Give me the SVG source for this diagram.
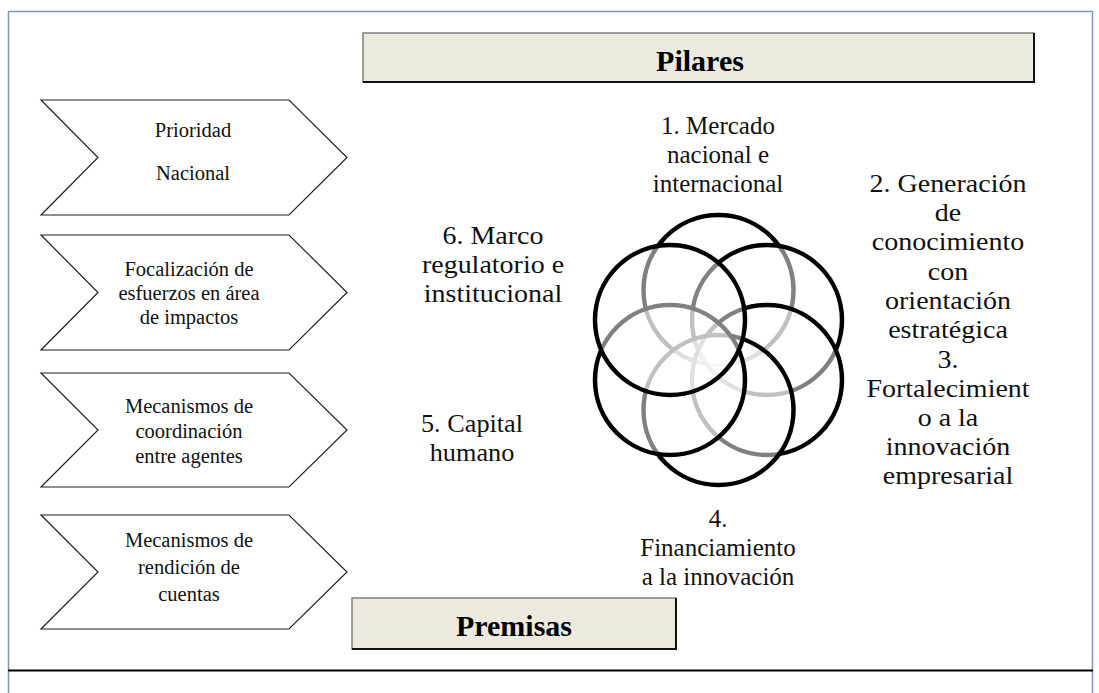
<svg xmlns="http://www.w3.org/2000/svg" width="1099" height="693" viewBox="0 0 1099 693">
<style>
.frame{fill:none;stroke:#7d96bd;stroke-width:1.5}
.chev{fill:#fff;stroke:#222;stroke-width:1.2}
text{font-family:"Liberation Serif","Times New Roman",serif;fill:#111;text-anchor:middle}
.ct{font-size:20.5px}
.lbl{font-size:25px}
.hdr{fill:#ece9df;stroke:#808080;stroke-width:1.5}
.hdrs{fill:none;stroke:#111;stroke-width:2}
.ht{font-size:30px;font-weight:bold;fill:#000}
.ring{fill:#fff;fill-opacity:0.5;stroke:#000;stroke-width:4.5}
</style>
<rect width="1099" height="693" fill="#fff"/>
<g id="frame">
<polyline class="frame" points="8.5,693 8.5,11.5 1092.5,11.5 1092.5,693"/>
<line x1="8" y1="670.5" x2="1093" y2="670.5" stroke="#000" stroke-width="2"/>
</g>
<g id="pilares">
<rect class="hdr" x="363" y="33" width="671" height="49"/>
<polyline class="hdrs" points="363,82 1034,82 1034,33"/>
<text class="ht" x="700" y="71">Pilares</text>
</g>
<g id="premisas">
<rect class="hdr" x="352" y="598" width="324" height="51"/>
<polyline class="hdrs" points="352,649 676,649 676,598"/>
<text class="ht" x="514" y="636">Premisas</text>
</g>
<g id="chevron1">
<polygon class="chev" points="41,100 289,100 347,157.5 289,215 41,215 98,157.5"/>
<text class="ct" x="193" y="137">Prioridad</text>
<text class="ct" x="193" y="180">Nacional</text>
</g>
<g id="chevron2">
<polygon class="chev" points="41,235 289,235 347,292.5 289,350 41,350 98,292.5"/>
<text class="ct" x="189" y="276">Focalización de</text>
<text class="ct" x="189" y="300">esfuerzos en área</text>
<text class="ct" x="189" y="324">de impactos</text>
</g>
<g id="chevron3">
<polygon class="chev" points="41,373 289,373 347,430 289,487 41,487 98,430"/>
<text class="ct" x="189" y="413">Mecanismos de</text>
<text class="ct" x="189" y="438">coordinación</text>
<text class="ct" x="189" y="463">entre agentes</text>
</g>
<g id="chevron4">
<polygon class="chev" points="41,515 289,515 347,572 289,629 41,629 98,572"/>
<text class="ct" x="189" y="547">Mecanismos de</text>
<text class="ct" x="189" y="574">rendición de</text>
<text class="ct" x="189" y="601">cuentas</text>
</g>
<g id="flower">
<circle class="ring" cx="718.5" cy="290" r="75"/>
<circle class="ring" cx="767" cy="320" r="75"/>
<circle class="ring" cx="767" cy="380" r="75"/>
<circle class="ring" cx="718.5" cy="410" r="75"/>
<circle class="ring" cx="670" cy="380" r="75"/>
<circle class="ring" cx="670" cy="320" r="75"/>
</g>
<g id="pilar1" class="lbl">
<text class="lbl" x="718" y="134">1. Mercado</text>
<text class="lbl" x="718" y="163">nacional e</text>
<text class="lbl" x="718" y="192">internacional</text>
</g>
<g id="pilar2" transform="translate(948,0) scale(1.12,1)">
<text class="lbl" x="0" y="192">2. Generación</text>
<text class="lbl" x="0" y="221">de</text>
<text class="lbl" x="0" y="250">conocimiento</text>
<text class="lbl" x="0" y="280">con</text>
<text class="lbl" x="0" y="309">orientación</text>
<text class="lbl" x="0" y="338">estratégica</text>
</g>
<g id="pilar3" transform="translate(948,0) scale(1.12,1)">
<text class="lbl" x="0" y="368">3.</text>
<text class="lbl" x="0" y="397">Fortalecimient</text>
<text class="lbl" x="0" y="426">o a la</text>
<text class="lbl" x="0" y="455">innovación</text>
<text class="lbl" x="0" y="484">empresarial</text>
</g>
<g id="pilar4">
<text class="lbl" x="718" y="527">4.</text>
<text class="lbl" x="718" y="556">Financiamiento</text>
<text class="lbl" x="718" y="585">a la innovación</text>
</g>
<g id="pilar5" transform="translate(472,0) scale(1.05,1)">
<text class="lbl" x="0" y="432">5. Capital</text>
<text class="lbl" x="0" y="461">humano</text>
</g>
<g id="pilar6" transform="translate(493,0) scale(1.12,1)">
<text class="lbl" x="0" y="244">6. Marco</text>
<text class="lbl" x="0" y="273">regulatorio e</text>
<text class="lbl" x="0" y="302">institucional</text>
</g>
</svg>
